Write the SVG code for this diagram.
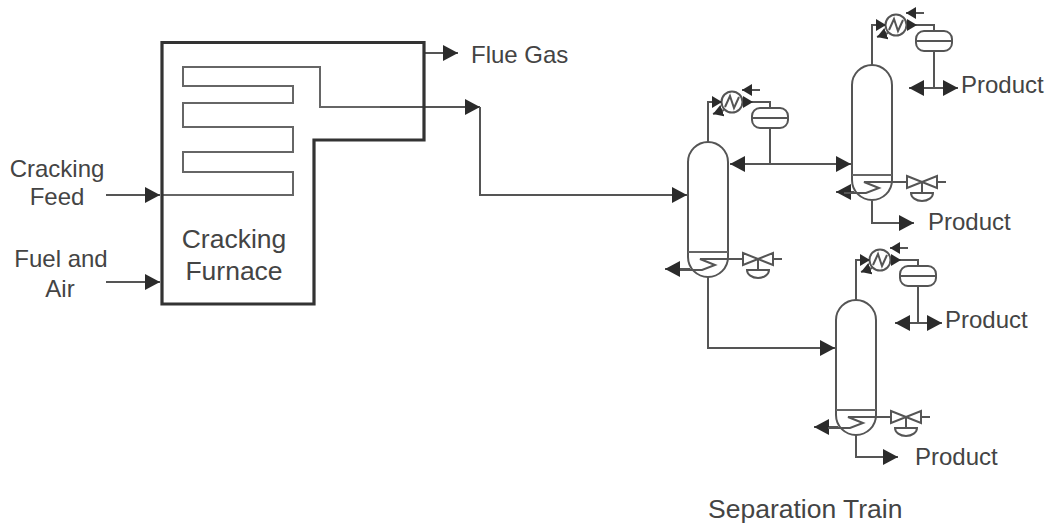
<svg xmlns="http://www.w3.org/2000/svg" width="1047" height="524" viewBox="0 0 1047 524">
<style>
text{font-family:"Liberation Sans",Arial,sans-serif;font-size:24px;fill:#444}
.big{font-size:26.5px}
.m{text-anchor:middle}
.l{fill:none;stroke:#555;stroke-width:2}
.f{fill:none;stroke:#333;stroke-width:3.2}
.c{fill:none;stroke:#666;stroke-width:2}
.w{fill:#fff;stroke:#555;stroke-width:2}
.a{marker-end:url(#ah)}
.s{marker-end:url(#sh)}
</style>
<defs>
<marker id="ah" markerUnits="userSpaceOnUse" markerWidth="16" markerHeight="18" refX="15" refY="8" orient="auto"><path d="M0 0L15 8L0 16Z" fill="#2b2b2b"/></marker>
<marker id="sh" markerUnits="userSpaceOnUse" markerWidth="11" markerHeight="12" refX="10" refY="6" orient="auto"><path d="M0 0L10 6L0 12Z" fill="#2b2b2b"/></marker>
<g id="column">
<path class="l" d="M0 20V115A20 20 0 0 0 40 115V20A20 20 0 0 0 0 20Z"/>
<path class="c" d="M0 110H40" stroke-width="3"/>
<path class="l" d="M40 117H12L27 123L14 128H-8"/>
<path class="l" d="M20 0V-40H24"/>
<circle class="w" cx="44" cy="-40" r="10.5"/>
<path class="l" d="M37 -35L42 -46L46 -34L51 -45"/>
<path class="l s" d="M24 -40H34"/>
<path class="l s" d="M36 -32L25 -28"/>
<path class="l s" d="M72 -52H54"/>
<path class="l s" d="M54 -40H65"/>
<path class="l" d="M65 -40H82V-34"/>
<rect class="l" x="64" y="-34" width="36" height="20" rx="8"/>
<path class="l" d="M64 -24H100"/>
<path class="l" d="M82 -14V23"/>
<path class="l" d="M40 117H55M85 117H94"/>
<path class="w" d="M55 111L85 123V111L55 123Z"/>
<path class="l" d="M70 117V128"/>
<path class="l" d="M59 128H81A11 8 0 0 1 59 128Z"/>
</g>
</defs>
<g id="connectors">
<path class="l a" d="M106 195H160"/>
<path class="l a" d="M106 282H160"/>
<path class="l a" d="M424 53H458"/>
<path class="c" d="M162 195H293V172H183V152H293V127H183V103H293V86H183V67H320V107H380"/>
<path class="l a" d="M380 107H480"/>
<path class="l a" d="M480 107V195H687"/>
<path class="l a" d="M770 164H730"/>
<path class="l a" d="M770 164H851"/>
<path class="l a" d="M708 277V348H835"/>
<path class="l a" d="M690 269H665"/>
<path class="l a" d="M854 192H836"/>
<path class="l a" d="M838 427H814"/>
<path class="l a" d="M934 88H909"/>
<path class="l a" d="M934 88H958"/>
<path class="l a" d="M918 323H895"/>
<path class="l a" d="M918 323H942"/>
<path class="l a" d="M872 201V223H914"/>
<path class="l a" d="M856 435V457H898"/>
</g>
<g id="furnace">
<path class="f" d="M162 42.5H424V140H314V304H162Z"/>
<text class="big m" x="234" y="248">Cracking</text>
<text class="big m" x="234" y="280">Furnace</text>
</g>
<g id="column-1"><use href="#column" x="688" y="142"/></g>
<g id="column-2"><use href="#column" x="852" y="65"/></g>
<g id="column-3"><use href="#column" x="836" y="300"/></g>
<g id="labels">
<text x="471" y="63">Flue Gas</text>
<text class="m" x="57" y="177">Cracking</text>
<text class="m" x="57" y="205">Feed</text>
<text class="m" x="61" y="267">Fuel and</text>
<text class="m" x="60" y="297">Air</text>
<text x="961" y="93">Product</text>
<text x="928" y="230">Product</text>
<text x="945" y="328">Product</text>
<text x="915" y="465">Product</text>
<text class="big" x="708" y="518">Separation Train</text>
</g>
</svg>
